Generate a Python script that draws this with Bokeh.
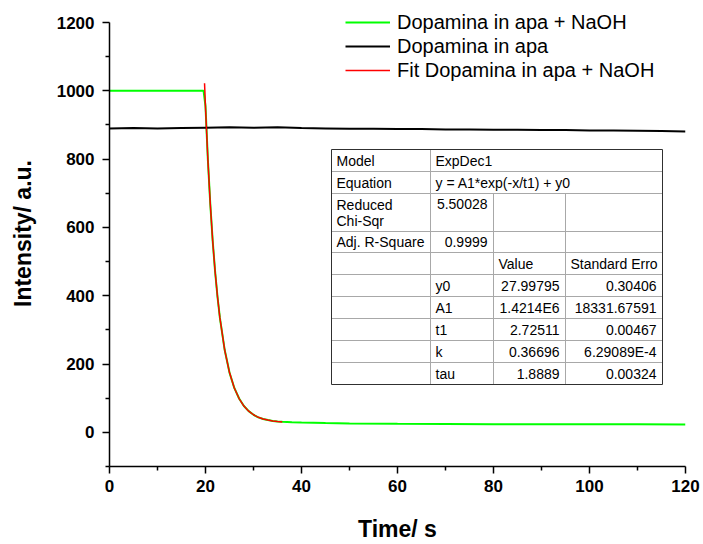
from bokeh.plotting import figure
from bokeh.models import FixedTicker, Legend, LegendItem
from bokeh.core.properties import value
from bokeh.embed import file_html
from bokeh.resources import INLINE

# ---------------- data ----------------
t_naoh = [0, 5, 10, 15, 19.6, 20.0, 20.5, 21, 21.5, 22, 22.5, 23, 24, 25, 26, 27, 28,
          29, 30, 31, 32, 33, 34, 35, 36, 38, 40, 45, 50, 60, 70, 80, 90, 100, 110, 120]
y_naoh = [1000, 1000, 1000, 1000, 1000, 955, 797, 668, 560, 471, 397, 335, 241, 175, 130, 99, 77,
          62, 51.5, 44, 39, 36, 33.5, 32, 31, 29.5, 28.5, 27, 26, 25, 24.5, 24, 24, 23.5, 23.5, 23]

t_apa = [0, 5, 10, 15, 20, 25, 30, 35, 40, 45, 50, 55, 60, 65, 70, 75, 80, 85, 90, 95,
         100, 105, 110, 115, 120]
y_apa = [890, 891, 890, 891, 892, 893, 892, 893, 891, 890, 889, 889, 888, 888, 887, 887,
         886, 886, 885, 885, 884, 884, 883, 882, 881]

t_fit = [19.8, 20, 20.5, 21, 21.5, 22, 22.5, 23, 24, 25, 26, 27, 28, 29, 30, 31, 32, 33, 34, 35, 36]
y_fit = [1022, 951, 797, 668, 560, 471, 397, 335, 241, 175, 130, 99, 77, 62, 51.5, 44, 39, 36,
         33.4, 31.8, 30.6]

series_names = ["Dopamina in apa + NaOH", "Dopamina in apa", "Fit Dopamina in apa + NaOH"]

x_ticks = [0, 20, 40, 60, 80, 100, 120]
x_minor = [10, 30, 50, 70, 90, 110]
y_ticks = [0, 200, 400, 600, 800, 1000, 1200]
y_minor = [-100, 100, 300, 500, 700, 900, 1100]

x_title = "Time/ s"
y_title = "Intensity/ a.u."

# fit-report table texts
tbl_labels = ["Model", "Equation", "Reduced", "Chi-Sqr", "Adj. R-Square"]
tbl_model = "ExpDec1"
tbl_equation = "y = A1*exp(-x/t1) + y0"
tbl_chisqr = "5.50028"
tbl_adjr2 = "0.9999"
tbl_headers = ["Value", "Standard Erro"]
param_names = ["y0", "A1", "t1", "k", "tau"]
param_values = ["27.99795", "1.4214E6", "2.72511", "0.36696", "1.8889"]
param_errors = ["0.30406", "18331.67591", "0.00467", "6.29089E-4", "0.00324"]

# ---------------- layout ----------------
FONT = "Liberation Sans"
W, H = 703, 544
AX_L, AX_R, AX_T, AX_B = 109, 685, 22, 466     # axis extents in page pixels
ML, MR, MT, MB = AX_L, W - AX_R, 0, H - AX_B
XR = (0, 120)
Y_LO, Y_HI = -100, 1200
FW = AX_R - AX_L
y_per_px = (Y_HI - Y_LO) / (AX_B - AX_T)
YR = (Y_LO, Y_HI + (AX_T - MT) * y_per_px)      # frame reaches the top, axis stops at 1200

p = figure(width=W, height=H, x_range=XR, y_range=YR, output_backend="svg",
           toolbar_location=None, min_border_left=ML, min_border_right=MR,
           min_border_top=MT, min_border_bottom=MB)
p.outline_line_color = None
p.grid.visible = False
p.background_fill_color = "white"
p.border_fill_color = "white"


def dx(px):
    return XR[0] + (px - ML) / FW * (XR[1] - XR[0])


def dy(py):
    return YR[1] - (py - MT) * y_per_px


# curves
r_naoh = p.line(t_naoh, y_naoh, line_color="#00ff00", line_width=2)
r_apa = p.line(t_apa, y_apa, line_color="black", line_width=2)
r_fit = p.line(t_fit, y_fit, line_color="#ff0000", line_width=1.5)

# axes
p.xaxis.ticker = FixedTicker(ticks=x_ticks, minor_ticks=x_minor)
p.yaxis.ticker = FixedTicker(ticks=y_ticks, minor_ticks=y_minor)
p.yaxis.bounds = (Y_LO, Y_HI)
for ax in (p.xaxis[0], p.yaxis[0]):
    ax.axis_line_color = "black"
    ax.axis_line_width = 1.5
    ax.major_tick_in = 0
    ax.major_tick_out = 7
    ax.minor_tick_in = 0
    ax.minor_tick_out = 4
    ax.major_tick_line_width = 1.5
    ax.minor_tick_line_width = 1.5
    ax.major_tick_line_color = "black"
    ax.minor_tick_line_color = "black"
    ax.major_label_text_font = FONT
    ax.major_label_text_font_style = "bold"
    ax.major_label_text_font_size = "17px"
    ax.major_label_text_color = "black"
    ax.axis_label_text_font = FONT
    ax.axis_label_text_font_style = "bold"
    ax.axis_label_text_font_size = "23px"
    ax.axis_label_text_color = "black"
p.xaxis.axis_label = x_title
p.yaxis.axis_label = y_title
p.xaxis.major_label_standoff = 6
p.yaxis.major_label_standoff = 8
p.xaxis.axis_label_standoff = 21
p.yaxis.axis_label_standoff = 18

# legend
legend = Legend(items=[LegendItem(label=series_names[0], renderers=[r_naoh]),
                       LegendItem(label=series_names[1], renderers=[r_apa]),
                       LegendItem(label=series_names[2], renderers=[r_fit])],
                location=(236, 384), orientation="vertical", padding=0, margin=0,
                spacing=0, glyph_width=45, glyph_height=24, label_height=24,
                label_standoff=7, label_text_font=FONT, label_text_font_size="20px",
                label_text_color="black", border_line_alpha=0, background_fill_alpha=0)
p.add_layout(legend)

# ---------------- fit table ----------------
col_px = [331, 430, 493, 565, 662]
row_px = [149, 171, 193, 231, 252, 274, 296, 318, 340, 362, 384]

p.quad(left=[dx(col_px[0])], right=[dx(col_px[-1])], top=[dy(row_px[0])],
       bottom=[dy(row_px[-1])], fill_color="white", line_color=None)

hx0, hx1, hy0, hy1 = [], [], [], []
for r in row_px[1:-1]:
    hx0.append(dx(col_px[0])); hx1.append(dx(col_px[-1]))
    hy0.append(dy(r)); hy1.append(dy(r))
hx0.append(dx(col_px[1])); hx1.append(dx(col_px[1]))
hy0.append(dy(row_px[0])); hy1.append(dy(row_px[-1]))
for c in col_px[2:4]:
    hx0.append(dx(c)); hx1.append(dx(c))
    hy0.append(dy(row_px[2])); hy1.append(dy(row_px[-1]))
p.segment(x0=hx0, y0=hy0, x1=hx1, y1=hy1, line_color="#a8a8a8", line_width=1)

p.quad(left=[dx(col_px[0])], right=[dx(col_px[-1])], top=[dy(row_px[0])],
       bottom=[dy(row_px[-1])], fill_color=None, line_color="#303030", line_width=1)


def rc(i):
    return (row_px[i] + row_px[i + 1]) / 2


PADL, PADR = 5, 6
lt_x, lt_y, lt_t = [], [], []
rt_x, rt_y, rt_t = [], [], []

lt_x += [dx(col_px[0] + PADL)] * 5
lt_y += [dy(rc(0)), dy(rc(1)), dy(row_px[2] + 11), dy(row_px[2] + 27), dy(rc(3))]
lt_t += tbl_labels
lt_x += [dx(col_px[1] + PADL)] * 2
lt_y += [dy(rc(0)), dy(rc(1))]
lt_t += [tbl_model, tbl_equation]
rt_x += [dx(col_px[2] - PADR)] * 2
rt_y += [dy(row_px[2] + 10), dy(rc(3))]
rt_t += [tbl_chisqr, tbl_adjr2]
lt_x += [dx(col_px[2] + PADL), dx(col_px[3] + PADL)]
lt_y += [dy(rc(4))] * 2
lt_t += tbl_headers
for i, (n, v, e) in enumerate(zip(param_names, param_values, param_errors)):
    lt_x.append(dx(col_px[1] + PADL)); lt_y.append(dy(rc(5 + i))); lt_t.append(n)
    rt_x.append(dx(col_px[3] - PADR)); rt_y.append(dy(rc(5 + i))); rt_t.append(v)
    rt_x.append(dx(col_px[4] - PADR)); rt_y.append(dy(rc(5 + i))); rt_t.append(e)

p.text(x=lt_x, y=lt_y, text=lt_t, text_font=value(FONT), text_font_size="14px",
       text_align="left", text_baseline="middle", text_color="black")
p.text(x=rt_x, y=rt_y, text=rt_t, text_font=value(FONT), text_font_size="14px",
       text_align="right", text_baseline="middle", text_color="black")

open("out.html", "w").write(file_html(p, INLINE))
